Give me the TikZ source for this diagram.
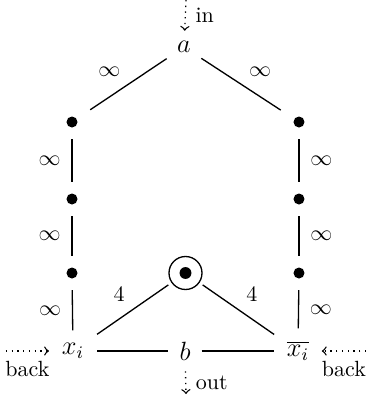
\documentclass[tikz,border=0pt]{standalone}
\begin{document}
\begin{tikzpicture}[x=0.4545pt,y=-0.4545pt,
  every path/.style={semithick},
  vtx/.style={font=\large},
  dot/.style={rectangle,minimum width=16pt,minimum height=15pt,inner sep=0pt,
    path picture={\fill (path picture bounding box.center) circle (2.5pt);}},
  lbl/.style={inner sep=3.33pt},
  io/.style={dotted,->,semithick}]
\useasboundingbox (0,0) rectangle (366,399);
% nodes
\node[vtx,inner sep=4.5pt] (a) at (184,47) {$a$};
\node[dot] (l1) at (72,122) {};
\node[dot] (l2) at (72,199) {};
\node[dot] (l3) at (72,273) {};
\node[dot] (r1) at (299,122) {};
\node[dot] (r2) at (299,199) {};
\node[dot] (r3) at (299,273) {};
\node[circle,draw,minimum size=15pt,inner sep=0pt,outer sep=2pt] (c) at (185.5,273) {};
\fill (c.center) circle (2.7pt);
\node[vtx,inner sep=5.6pt] (x) at (73,351) {$x_i$};
\node[vtx,inner sep=4.8pt] (b) at (185,351) {$b$};
\node[vtx,inner sep=5.5pt] (xb) at (298,351) {$\overline{x_i}$};
% free ends
\coordinate (inS) at (186,0);
\coordinate (outE) at (186,394);
\coordinate (bl) at (6,351);
\coordinate (br) at (366,351);
% edges
\draw (a) -- node[midway,above left,lbl] {$\infty$} (l1);
\draw (a) -- node[midway,above right,lbl] {$\infty$} (r1);
\draw (l1) -- node[midway,left=1.5pt] {$\infty$} (l2);
\draw (l2) -- node[midway,left=1.5pt] {$\infty$} (l3);
\draw (l3) -- node[midway,left=1.5pt] {$\infty$} (x);
\draw (r1) -- node[midway,right=1.5pt] {$\infty$} (r2);
\draw (r2) -- node[midway,right=1.5pt] {$\infty$} (r3);
\draw (r3) -- node[midway,right=1.5pt] {$\infty$} (xb);
\draw (x) -- node[midway,above left,lbl] {$4$} (c);
\draw (xb) -- node[midway,above right,lbl] {$4$} (c);
\draw (x) -- (b);
\draw (b) -- (xb);
% io arrows
\draw[io] (inS) -- node[midway,right=1pt] {in} (a);
\draw[io] (b) -- node[midway,right=1pt] {out} (outE);
\draw[io] (bl) -- node[midway,below=1pt] {back} (x);
\draw[io] (br) -- node[midway,below=1pt] {back} (xb);
\end{tikzpicture}
\end{document}
